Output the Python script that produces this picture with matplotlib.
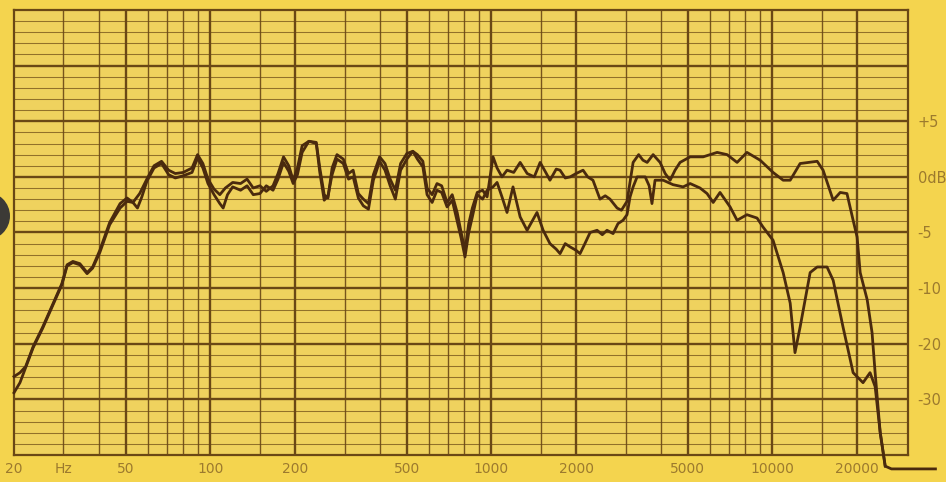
import numpy as np
import matplotlib
matplotlib.use("Agg")
import matplotlib.pyplot as plt
from matplotlib.patches import Ellipse

# ---------------- data ----------------
freq_a = [20, 21, 22, 23.4, 25.3, 27.6, 29.6, 30.9, 32.4, 34.3, 36.4, 38.1, 40.4, 43.8, 47.7,
          50.5, 53, 56, 59.4, 63, 67, 71, 75, 80, 86, 90, 94, 98, 103, 108, 113, 120, 128,
          135, 142, 150, 158, 167, 174, 182, 190, 197, 204, 212, 224, 238, 245, 254, 262,
          271, 282, 297, 310, 322, 336, 350, 365, 380, 400, 418, 436, 455, 475, 500, 525,
          545, 570, 590, 615, 640, 665, 695, 725, 755, 780, 805, 830, 855, 890, 930, 965,
          1013, 1047, 1090, 1136, 1200, 1265, 1340, 1420, 1490, 1560, 1615, 1700, 1754,
          1830, 1906, 2000, 2118, 2200, 2297, 2433, 2540, 2641, 2799, 2900, 3036, 3192,
          3340, 3460, 3581, 3760, 3981, 4150, 4323, 4500, 4689, 5093, 5665, 6354, 6891,
          7482, 8110, 9036, 10046, 10912, 11560, 12538, 14421, 15138, 16440, 17418, 18407,
          19360, 20000, 20511, 21727, 22608, 23183, 24160, 25177, 26500, 38000]
db_a = [-25.9, -25.2, -24.1, -20.5, -17.0, -12.7, -9.6, -7.9, -7.6, -7.8, -8.6, -8.1, -6.6,
        -4.1, -2.4, -1.9, -2.3, -1.5, -0.2, 1.0, 1.4, 0.6, 0.3, 0.4, 0.8, 2.0, 1.2, -0.2,
        -1.1, -1.6, -1.0, -0.5, -0.6, -0.2, -1.0, -0.8, -1.3, -0.8, 0.3, 1.8, 1.0, -0.3,
        0.8, 2.8, 3.2, 3.1, 0.8, -1.6, -1.9, 0.8, 2.0, 1.6, 0.3, 0.6, -1.5, -2.0, -2.4,
        0.2, 1.8, 1.2, -0.2, -1.2, 1.2, 2.1, 2.3, 2.0, 1.4, -1.0, -1.6, -0.6, -0.8, -2.3,
        -1.6, -3.2, -5.0, -6.6, -4.2, -2.8, -1.4, -1.2, -1.8, 1.8, 0.8, 0.0, 0.6, 0.4, 1.3,
        0.3, 0.0, 1.3, 0.4, -0.3, 0.7, 0.6, -0.1, 0.0, 0.3, 0.6, 0.0, -0.3, -2.0, -1.7,
        -2.0, -2.8, -3.0, -2.2, 1.3, 2.0, 1.5, 1.3, 2.0, 1.3, 0.3, -0.3, 0.6, 1.3, 1.8,
        1.8, 2.2, 2.0, 1.3, 2.2, 1.5, 0.4, -0.3, -0.3, 1.2, 1.4, 0.6, -2.1, -1.4, -1.5,
        -3.9, -5.4, -8.6, -12.1, -18.0, -25.2, -35.9, -42.0, -42.5, -42.5]

freq_b = [20, 21, 22, 23.4, 25.3, 27.6, 29.6, 30.9, 32.4, 34.3, 36.4, 38.1, 40.4, 43.8, 47.7,
          50.5, 53, 55, 57, 59.4, 63, 67, 71, 75, 80, 86, 90, 94, 98, 103, 108, 111, 115,
          120, 128, 135, 142, 150, 158, 167, 174, 182, 190, 197, 204, 212, 224, 238, 245,
          254, 262, 271, 282, 297, 310, 322, 336, 350, 365, 380, 400, 418, 436, 455, 475,
          500, 525, 545, 570, 590, 615, 640, 665, 695, 725, 755, 780, 805, 830, 855, 890,
          930, 965, 1013, 1047, 1090, 1136, 1193, 1265, 1339, 1452, 1527, 1615, 1700, 1754,
          1830, 1906, 2000, 2066, 2150, 2244, 2376, 2480, 2577, 2709, 2820, 2939, 3036,
          3113, 3192, 3298, 3524, 3640, 3725, 3820, 4083, 4426, 4808, 5093, 5522, 5850,
          6151, 6505, 7066, 7482, 8110, 8811, 9247, 10046, 10912, 11560, 12023, 12538,
          13614, 14421, 15635, 16440, 17824, 19360, 20994, 22240, 23183, 24160, 25177]
db_b = [-28.8, -27.0, -24.3, -20.7, -17.2, -12.9, -9.7, -8.0, -7.7, -7.9, -8.7, -8.2, -6.8,
        -4.3, -2.8, -2.2, -2.3, -2.8, -1.8, -0.4, 0.8, 1.2, 0.2, -0.1, 0.1, 0.4, 1.7, 0.8,
        -0.6, -1.6, -2.4, -2.8, -1.6, -0.9, -1.2, -0.8, -1.6, -1.5, -0.8, -1.2, -0.2, 1.3,
        0.5, -0.6, 0.2, 2.2, 3.2, 3.0, 0.4, -2.1, -1.7, 0.2, 1.6, 1.2, -0.2, 0.0, -1.9,
        -2.6, -2.9, -0.3, 1.4, 0.6, -0.8, -2.0, 0.6, 1.6, 2.3, 1.6, 0.9, -1.6, -2.3, -1.2,
        -1.4, -2.7, -2.1, -4.0, -5.5, -7.2, -5.0, -3.6, -1.6, -2.0, -1.2, -0.9, -0.5, -1.8,
        -3.2, -0.9, -3.6, -4.8, -3.2, -4.8, -6.0, -6.5, -6.9, -6.0, -6.3, -6.6, -6.9, -6.0,
        -5.0, -4.8, -5.2, -4.8, -5.1, -4.2, -3.9, -3.4, -1.8, -0.9, 0.0, 0.0, -0.8, -2.4,
        -0.3, -0.3, -0.7, -0.9, -0.6, -1.0, -1.5, -2.3, -1.4, -2.7, -3.9, -3.4, -3.7, -4.5,
        -5.7, -8.6, -12.7, -21.6, -17.0, -8.6, -8.1, -8.1, -9.3, -17.0, -25.2, -27.0,
        -25.2, -27.7, -35.9, -42.0]

# axis definitions
db_grid_major = [-40, -30, -20, -10, -5, 0, 5, 10, 15]
y_label_vals = [5, 0, -5, -10, -20, -30]
y_label_txt = ["+5", "0dB", "-5", "-10", "-20", "-30"]
x_label_vals = [20, 30, 50, 100, 200, 500, 1000, 2000, 5000, 10000, 20000]
x_label_txt = ["20", "Hz", "50", "100", "200", "500", "1000", "2000", "5000", "10000", "20000"]
x_grid_thick = [50, 100, 200, 500, 1000, 2000, 5000, 10000, 20000]
x_grid_thin = [30, 40, 60, 70, 80, 90, 150, 300, 400, 600, 700, 800, 900, 1500,
               3000, 4000, 6000, 7000, 8000, 9000, 15000]

# ---------------- piecewise dB scale ----------------
_db = np.array(db_grid_major, float)
_u = np.arange(len(_db), dtype=float)


def fwd(v):
    v = np.asarray(v, float)
    u = np.interp(v, _db, _u)
    u = np.where(v < _db[0], (v - _db[0]) / 10.0, u)
    u = np.where(v > _db[-1], _u[-1] + (v - _db[-1]) / 5.0, u)
    return u


def inv(u):
    u = np.asarray(u, float)
    v = np.interp(u, _u, _db)
    v = np.where(u < 0, _db[0] + u * 10.0, v)
    v = np.where(u > _u[-1], _db[-1] + (u - _u[-1]) * 5.0, v)
    return v


paper = "#EFD25E"
outer = "#F4D44E"
ink = "#6A4815"
curve = "#4A2A0E"
label_col = "#9C7A2E"

fig = plt.figure(figsize=(9.46, 4.82), dpi=100, facecolor=outer)
ax = fig.add_axes([14 / 946, 27 / 482, 894 / 946, 445 / 482])
ax.set_facecolor(paper)
ax.set_xscale("log")
ax.set_yscale("function", functions=(fwd, inv))
ax.set_xlim(20, 30350)
ax.set_ylim(-40, 15)

# horizontal grid
minor_h = []
for lo, hi in zip(db_grid_major[:-1], db_grid_major[1:]):
    step = (hi - lo) / 5.0
    minor_h += [lo + k * step for k in range(1, 5)]
for v in minor_h:
    ax.axhline(v, color=ink, lw=0.75, alpha=0.7, zorder=1)
for v in db_grid_major[1:-1]:
    ax.axhline(v, color=ink, lw=1.7, zorder=1.5)
# vertical grid
for f in x_grid_thin:
    ax.axvline(f, color=ink, lw=1.0, alpha=0.9, zorder=1.5)
for f in x_grid_thick:
    ax.axvline(f, color=ink, lw=1.7, zorder=1.5)

for s in ax.spines.values():
    s.set_color(ink)
    s.set_linewidth(1.6)

# curves
ax.plot(freq_a, db_a, color=curve, lw=2.0, solid_joinstyle="round", zorder=3, clip_on=False)
ax.plot(freq_b, db_b, color=curve, lw=2.0, solid_joinstyle="round", zorder=3, clip_on=False)

# ticks / labels
ax.xaxis.set_minor_locator(matplotlib.ticker.NullLocator())
ax.yaxis.set_minor_locator(matplotlib.ticker.NullLocator())
ax.set_xticks(x_label_vals, labels=x_label_txt)
ax.tick_params(axis="x", length=0, pad=5, labelsize=10, labelcolor=label_col)
ax.yaxis.tick_right()
ax.set_yticks(y_label_vals, labels=y_label_txt)
ax.tick_params(axis="y", length=0, pad=7, labelsize=10.5, labelcolor=label_col)

# binding hole at left edge
fig.patches.append(Ellipse((-14 / 946, 1 - 216 / 482), 48 / 946, 48 / 482,
                           transform=fig.transFigure, facecolor="#3C3A36",
                           edgecolor="none", zorder=5))

fig.savefig("out.png", dpi=100, facecolor=outer)
